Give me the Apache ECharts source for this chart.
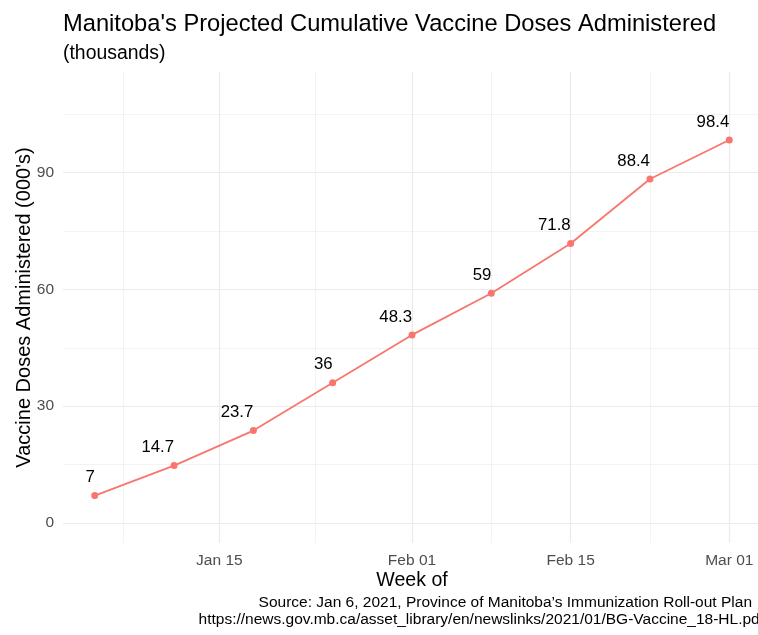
<!DOCTYPE html>
<html>
<head>
<meta charset="utf-8">
<script src="https://cdn.jsdelivr.net/npm/echarts@6/dist/echarts.min.js"></script>
<style>
html,body{margin:0;padding:0;background:#fff;}
#chart{width:758px;height:635px;}
</style>
</head>
<body>
<div id="chart"></div>
<script>
// ---- data ----
const weekDates = ['2021-01-04','2021-01-11','2021-01-18','2021-01-25','2021-02-01','2021-02-08','2021-02-15','2021-02-22','2021-03-01'];
const doses = [7, 14.7, 23.7, 36, 48.3, 59, 71.8, 88.4, 98.4];
const xTickDates = ['2021-01-15','2021-02-01','2021-02-15','2021-03-01'];
const xTickLabels = ['Jan 15','Feb 01','Feb 15','Mar 01'];
const xMinorDates = ['2021-01-06T12:00','2021-01-23T12:00','2021-02-08T00:00','2021-02-22T00:00'];
const yTicks = [0, 30, 60, 90];
const yMinorTicks = [15, 45, 75, 105];
const titleText = "Manitoba's Projected Cumulative Vaccine Doses Administered";
const subtitleText = "(thousands)";
const xTitle = "Week of";
const yTitle = "Vaccine Doses Administered (000's)";
const captionLines = ["Source: Jan 6, 2021, Province of Manitoba\u2019s Immunization Roll-out Plan",
                      "https://news.gov.mb.ca/asset_library/en/newslinks/2021/01/BG-Vaccine_18-HL.pdf"];

function ts(s){
  const [d, t] = s.split('T');
  const [y, m, dd] = d.split('-').map(Number);
  let h = 0, mi = 0;
  if (t) { [h, mi] = t.split(':').map(Number); }
  return Date.UTC(y, m - 1, dd, h, mi);
}
const xs = weekDates.map(ts);
const span = xs[xs.length - 1] - xs[0];
const xMin = xs[0] - span * 0.05;
const xMaxFull = xs[xs.length - 1] + span * 0.05;
// the original plot panel runs ~3px past the right edge of the picture (cropped)
const PANEL_FULL = 698, PANEL_SHOWN = 695;
const xMax = xMin + (xMaxFull - xMin) * PANEL_SHOWN / PANEL_FULL;
const xTickVals = xTickDates.map(ts);
const labelMap = {};
xTickVals.forEach((v, i) => labelMap[v] = xTickLabels[i]);

const FONT = "'Liberation Sans', Arial, Helvetica, sans-serif";
const GRID_COLOR = '#EBEBEB';

const gridLines = [];
xTickVals.forEach(v => gridLines.push({xAxis: v, lineStyle: {width: 1.2, color: GRID_COLOR, type: 'solid'}}));
xMinorDates.map(ts).forEach(v => gridLines.push({xAxis: v, lineStyle: {width: 0.6, color: GRID_COLOR, type: 'solid'}}));
yTicks.forEach(v => gridLines.push({yAxis: v, lineStyle: {width: 1.2, color: GRID_COLOR, type: 'solid'}}));
yMinorTicks.forEach(v => gridLines.push({yAxis: v, lineStyle: {width: 0.6, color: GRID_COLOR, type: 'solid'}}));

const chart = echarts.init(document.getElementById('chart'), null, {renderer: 'canvas'});
chart.setOption({
  backgroundColor: '#ffffff',
  animation: false,
  textStyle: {fontFamily: FONT},
  grid: {left: 63, right: 0, top: 72, bottom: 92, containLabel: false},
  xAxis: {
    type: 'value',
    min: xMin,
    max: xMax,
    axisLine: {show: false},
    axisTick: {show: false},
    splitLine: {show: false},
    axisLabel: {
      customValues: xTickVals,
      formatter: v => labelMap[v] || '',
      color: '#4D4D4D',
      fontSize: 15.5,
      fontFamily: FONT,
      margin: 10
    }
  },
  yAxis: {
    type: 'value',
    min: -5.2,
    max: 115.9,
    axisLine: {show: false},
    axisTick: {show: false},
    splitLine: {show: false},
    axisLabel: {
      customValues: yTicks,
      color: '#4D4D4D',
      fontSize: 15.5,
      fontFamily: FONT,
      margin: 9
    }
  },
  series: [
    {
      type: 'line',
      data: [],
      silent: true,
      z: 1,
      markLine: {
        silent: true,
        symbol: ['none', 'none'],
        label: {show: false},
        animation: false,
        data: gridLines
      }
    },
    {
      type: 'line',
      z: 5,
      data: xs.map((x, i) => [x, doses[i]]),
      symbol: 'circle',
      symbolSize: 7,
      itemStyle: {color: '#F8766D'},
      lineStyle: {color: '#F8766D', width: 1.8},
      label: {
        show: true,
        position: 'top',
        align: 'right',
        distance: 6,
        color: '#000000',
        fontSize: 16.8,
        fontFamily: FONT,
        formatter: p => String(p.value[1])
      }
    }
  ],
  graphic: [
    {type: 'text', style: {x: 63, y: 24, text: titleText, font: '23.7px ' + FONT, fill: '#000000', textAlign: 'left', textVerticalAlign: 'middle'}},
    {type: 'text', style: {x: 63, y: 54, text: subtitleText, font: '19.4px ' + FONT, fill: '#000000', textAlign: 'left', textVerticalAlign: 'middle'}},
    {type: 'text', style: {x: 412, y: 581, text: xTitle, font: '19.6px ' + FONT, fill: '#000000', textAlign: 'center', textVerticalAlign: 'middle'}},
    {type: 'text', x: 24, y: 307.5, rotation: Math.PI / 2, style: {x: 0, y: 0, text: yTitle, font: '20px ' + FONT, fill: '#000000', textAlign: 'center', textVerticalAlign: 'middle'}},
    {type: 'text', style: {x: 752, y: 603, text: captionLines[0], font: '15.5px ' + FONT, fill: '#000000', textAlign: 'right', textVerticalAlign: 'middle'}},
    {type: 'text', style: {x: 764, y: 620, text: captionLines[1], font: '15.5px ' + FONT, fill: '#000000', textAlign: 'right', textVerticalAlign: 'middle'}}
  ]
});
</script>
</body>
</html>
